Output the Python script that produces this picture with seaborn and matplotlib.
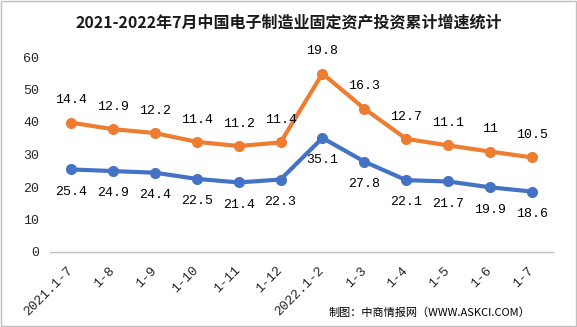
import matplotlib
matplotlib.use("Agg")
import matplotlib.pyplot as plt
from matplotlib.patches import Rectangle
import seaborn as sns
import pandas as pd
import numpy as np

# ---- data ----
categories = ["2021.1-7", "1-8", "1-9", "1-10", "1-11", "1-12",
              "2022.1-2", "1-3", "1-4", "1-5", "1-6", "1-7"]
blue_values = [25.4, 24.9, 24.4, 22.5, 21.4, 22.3, 35.1, 27.8, 22.1, 21.7, 19.9, 18.6]
orange_values = [14.4, 12.9, 12.2, 11.4, 11.2, 11.4, 19.8, 16.3, 12.7, 11.1, 11, 10.5]
yticks = [0, 10, 20, 30, 40, 50, 60]

title = "2021-2022年7月中国电子制造业固定资产投资累计增速统计"
source = "制图：中商情报网（WWW.ASKCI.COM）"

BLUE = "#4472C4"
ORANGE = "#ED7D31"

sns.set_theme(style="white")
plt.rcParams["font.family"] = ["Noto Sans CJK SC", "DejaVu Sans"]

# stacked line chart: orange is drawn on top of blue
idx = np.arange(len(categories))
stacked_orange = np.array(blue_values) + np.array(orange_values)
df = pd.concat([
    pd.DataFrame({"pos": idx, "val": blue_values, "series": "s1"}),
    pd.DataFrame({"pos": idx, "val": stacked_orange, "series": "s2"}),
])

fig = plt.figure(figsize=(5.77, 3.27), dpi=100)
ax = fig.add_axes([50 / 577, 1 - 252 / 327, 503 / 577, 195 / 327])

sns.lineplot(data=df, x="pos", y="val", hue="series", palette={"s1": BLUE, "s2": ORANGE},
             marker="o", markersize=8, markeredgewidth=0, linewidth=3,
             legend=False, sort=False, ax=ax)

mono = "Liberation Mono"
for i in idx:
    ax.annotate(f"{blue_values[i]:g}", (i, blue_values[i]), xytext=(0, -16),
                textcoords="offset points", ha="center", va="center",
                fontsize=9.5, family=mono, color="black")
    ax.annotate(f"{orange_values[i]:g}", (i, stacked_orange[i]), xytext=(0, 16),
                textcoords="offset points", ha="center", va="center",
                fontsize=9.5, family=mono, color="black")

ax.set_xlim(-0.5, len(categories) - 0.5)
ax.set_ylim(0, 60)
ax.set_yticks(yticks)
ax.set_yticklabels([str(t) for t in yticks], family=mono, fontsize=9.5)
ax.set_xticks(idx)
ax.set_xticklabels(categories, family=mono, fontsize=9.5, rotation=45,
                   ha="right", va="center", rotation_mode="anchor")
ax.set_xticks(np.arange(-0.5, len(categories), 1), minor=True)
ax.tick_params(axis="x", which="major", length=0, pad=12)
ax.tick_params(axis="x", which="minor", length=5, color="#BFBFBF", width=1, direction="out")
ax.tick_params(axis="y", length=0, pad=8)
ax.set_xlabel("")
ax.set_ylabel("")
for s in ["top", "right", "left"]:
    ax.spines[s].set_visible(False)
ax.spines["bottom"].set_color("#BFBFBF")
ax.spines["bottom"].set_linewidth(1)
ax.grid(False)

fig.text(0.5, 1 - 22 / 327, title, ha="center", va="center",
         fontsize=11.5, fontweight="bold", color="#1a1a1a")
fig.text(530 / 577, 1 - 313 / 327, source, ha="right", va="center",
         fontsize=8, color="black")

fig.patches.append(Rectangle((0.001, 0.002), 0.997, 0.995, transform=fig.transFigure,
                             fill=False, edgecolor="#BFBFBF", linewidth=1))

fig.savefig("out.png", dpi=100)
